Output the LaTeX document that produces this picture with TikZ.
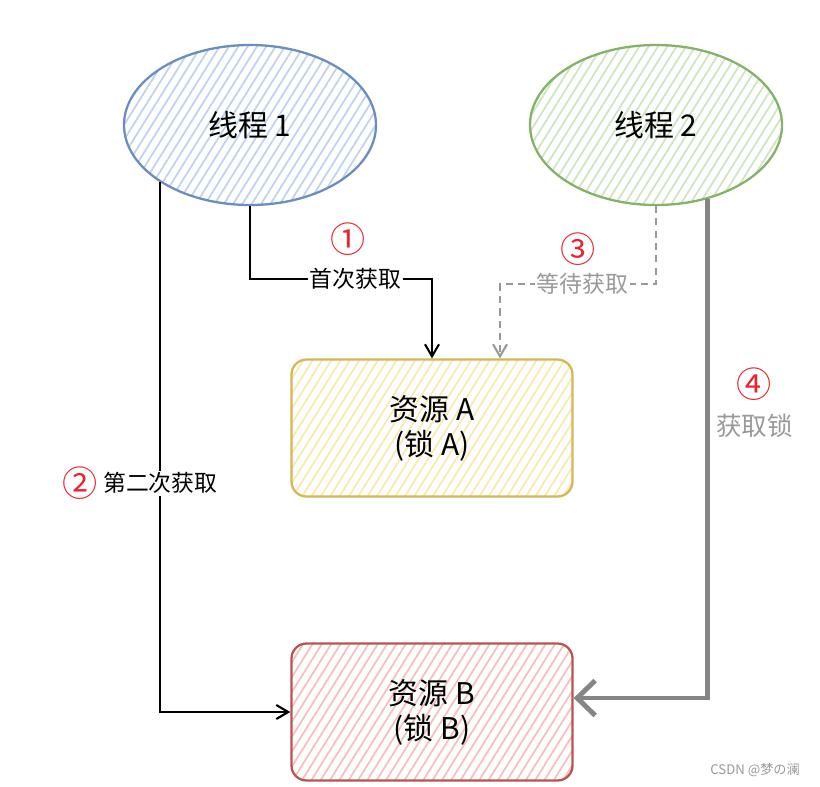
\documentclass[tikz,border=0pt]{standalone}
\usepackage{fontspec}
\setmainfont{Noto Sans CJK SC}
\usetikzlibrary{shapes.geometric, positioning, calc, arrows.meta, patterns.meta}

\definecolor{tblue}{HTML}{6C8EBF}
\definecolor{tbluehatch}{HTML}{BFD3F0}
\definecolor{tgreen}{HTML}{82B366}
\definecolor{tgreenhatch}{HTML}{CDE6BE}
\definecolor{ryellow}{HTML}{D6B656}
\definecolor{ryellowhatch}{HTML}{FBE8B0}
\definecolor{rred}{HTML}{B85450}
\definecolor{rredhatch}{HTML}{F5BFBD}
\definecolor{numred}{HTML}{E8242C}
\definecolor{labgray}{HTML}{999999}
\definecolor{arrgray}{HTML}{858585}

\begin{document}
\begin{tikzpicture}[
                    node distance=6cm,
                    thread/.style={ellipse, draw, line width=1.3pt, minimum width=5.04cm, minimum height=3.2cm, font=\fontsize{17}{20}\selectfont},
                    res/.style={rectangle, draw, rounded corners=0.3cm, line width=1.3pt, minimum width=5.62cm, minimum height=2.74cm, align=center, font=\fontsize{17}{20}\selectfont},
                    hatch/.style={pattern={Lines[angle=58, distance=4.5pt, line width=1pt]}, pattern color=#1},
                    line/.style={draw, line width=1.2pt, -{Straight Barb[length=2.4mm, width=2.8mm]}},
                    dline/.style={draw, line width=1.2pt, labgray, dash pattern=on 4pt off 3pt, -{Straight Barb[length=2.4mm, width=2.8mm]}},
                    bigline/.style={draw, line width=2.8pt, arrgray, -{Straight Barb[length=3.6mm, width=7mm]}},
                    lbl/.style={fill=white, inner sep=1pt, font=\fontsize{13}{15}\selectfont},
                    num/.style={text=numred, inner sep=0pt, font=\fontsize{20}{22}\selectfont}
                ]
                    \useasboundingbox (0,0) rectangle (16.4,-15.72);

                    \node [thread, draw=tblue, hatch=tbluehatch] (t1) at (5.0,-2.5) {线程 1};
                    \node [thread, draw=tgreen, hatch=tgreenhatch, right of=t1, node distance=8.12cm] (t2) {线程 2};

                    \node [res, draw=ryellow, hatch=ryellowhatch, below of=t1, node distance=6.06cm, xshift=3.64cm] (resA) {资源 A\\(锁 A)};
                    \node [res, draw=rred, hatch=rredhatch, below of=resA, node distance=5.68cm] (resB) {资源 B\\(锁 B)};

                    % Edges from thread 1
                    \path [line] (t1.south) -- ++(0,-1.46) -| node [lbl, pos=0.29] (lbl1) {首次获取} (resA.north);
                    \node [num, above of=lbl1, node distance=0.8cm, xshift=-0.14cm] (n1) {①};
                    \path [line] (t1.south west) |- node [lbl, pos=0.284] (lbl2) {第二次获取} (resB.west);
                    \node [num, left=0.05cm of lbl2] (n2) {②};

                    % Edges from thread 2
                    \path [dline] (t2.south) -- ++(0,-1.56) -| node [lbl, text=labgray, pos=0.235] (lbl3) {等待获取} ([xshift=1.36cm]resA.north);
                    \node [num, above of=lbl3, node distance=0.7cm, xshift=-0.1cm] (n3) {③};
                    \path [bigline] (t2.-55) |- node [right, pos=0.227, text=labgray, font=\fontsize{14.5}{17}\selectfont] (lbl4) {获取锁} ([yshift=0.28cm]resB.east);
                    \node [num, above of=lbl4, node distance=0.82cm] (n4) {④};

                    \node [anchor=east, text=labgray, font=\fontsize{7.5}{9}\selectfont] (wm) at (16.12,-15.4) {CSDN @梦の澜};
                \end{tikzpicture}
\end{document}
